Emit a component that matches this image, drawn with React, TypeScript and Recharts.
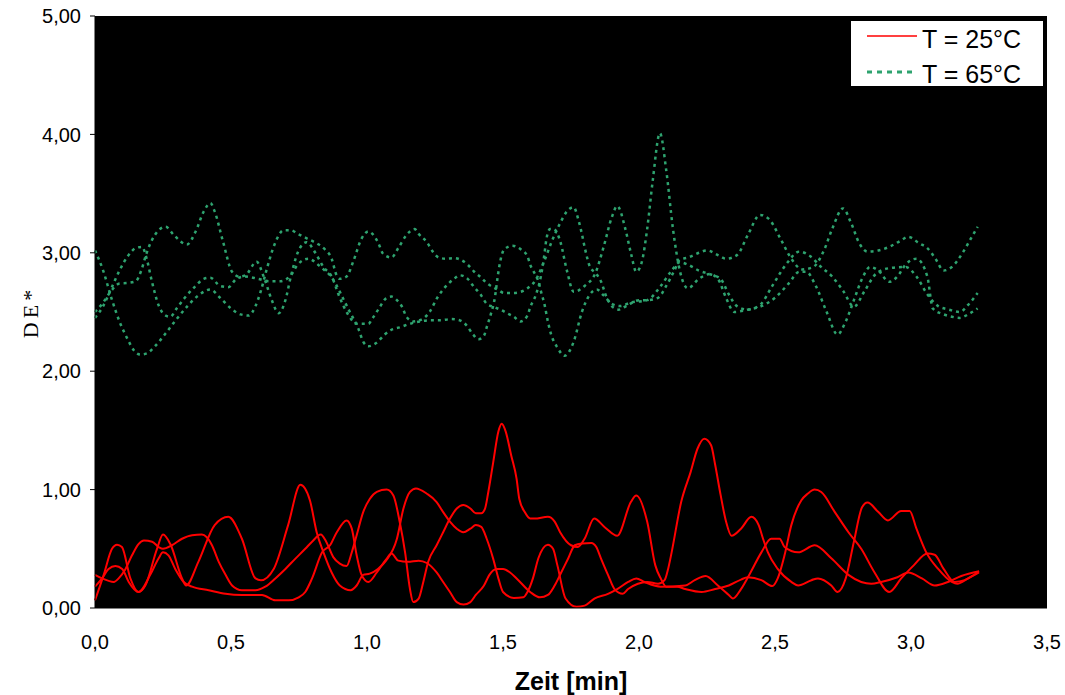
import React from 'react';
import { LineChart, Line, XAxis, YAxis, CartesianGrid, Legend } from 'recharts';

type Pt = [number, number];

const X_TICKS = [0, 0.5, 1, 1.5, 2, 2.5, 3, 3.5];
const Y_TICKS = [0, 1, 2, 3, 4, 5];

const RED = '#ff0000';
const GREEN = '#2ea36f';
const FONT = '"Liberation Sans", Arial, sans-serif';

// T = 25°C, three runs
const red1: Pt[] = [
  [0, 0.065], [0.032, 0.28], [0.0625, 0.5], [0.081, 0.535], [0.099, 0.515], [0.13, 0.25], [0.16, 0.135],
  [0.185, 0.19], [0.228, 0.5], [0.25, 0.62], [0.277, 0.54], [0.32, 0.25], [0.335, 0.19], [0.38, 0.39],
  [0.44, 0.7], [0.49, 0.77], [0.54, 0.585], [0.59, 0.25], [0.61, 0.235], [0.657, 0.33], [0.71, 0.7],
  [0.755, 1.04], [0.79, 0.91], [0.815, 0.64], [0.84, 0.47], [0.87, 0.3], [0.9, 0.19], [0.94, 0.15],
  [0.962, 0.19], [0.986, 0.28], [1.01, 0.29], [1.04, 0.33], [1.07, 0.4], [1.11, 0.585], [1.134, 0.84],
  [1.158, 0.98], [1.18, 1.01], [1.22, 0.965], [1.256, 0.895], [1.28, 0.81], [1.305, 0.73], [1.33, 0.67],
  [1.354, 0.64], [1.38, 0.67], [1.4, 0.7], [1.42, 0.685], [1.44, 0.585], [1.464, 0.415], [1.483, 0.25],
  [1.5, 0.135], [1.54, 0.085], [1.575, 0.09], [1.59, 0.135], [1.61, 0.25], [1.63, 0.42], [1.665, 0.535],
  [1.684, 0.5], [1.7, 0.36], [1.73, 0.08], [1.77, 0.01], [1.8, 0.02], [1.836, 0.08], [1.886, 0.12],
  [1.92, 0.16], [1.96, 0.22], [1.99, 0.25], [2.02, 0.22], [2.08, 0.18], [2.17, 0.19], [2.205, 0.235],
  [2.245, 0.27], [2.29, 0.19], [2.33, 0.11], [2.345, 0.08], [2.375, 0.16], [2.41, 0.3], [2.45, 0.47],
  [2.486, 0.585], [2.517, 0.585], [2.535, 0.515], [2.585, 0.47], [2.646, 0.53], [2.707, 0.42], [2.77, 0.28],
  [2.817, 0.22], [2.854, 0.205], [2.89, 0.22], [2.95, 0.26], [2.99, 0.3], [3.04, 0.25], [3.087, 0.19],
  [3.136, 0.22], [3.185, 0.27], [3.25, 0.31],
];

const red2: Pt[] = [
  [0, 0.18], [0.026, 0.25], [0.05, 0.33], [0.075, 0.355], [0.1, 0.33], [0.124, 0.22], [0.16, 0.135],
  [0.203, 0.28], [0.234, 0.42], [0.25, 0.47], [0.27, 0.445], [0.295, 0.33], [0.326, 0.22], [0.357, 0.18],
  [0.418, 0.15], [0.48, 0.12], [0.54, 0.11], [0.614, 0.11], [0.663, 0.065], [0.712, 0.065], [0.749, 0.09],
  [0.773, 0.135], [0.798, 0.25], [0.835, 0.47], [0.864, 0.53], [0.889, 0.64], [0.925, 0.74], [0.944, 0.67],
  [0.962, 0.445], [0.98, 0.28], [1.005, 0.22], [1.036, 0.3], [1.072, 0.415], [1.09, 0.46], [1.115, 0.4],
  [1.15, 0.39], [1.19, 0.4], [1.22, 0.38], [1.256, 0.3], [1.28, 0.22], [1.305, 0.135], [1.33, 0.05],
  [1.355, 0.03], [1.38, 0.05], [1.4, 0.11], [1.43, 0.19], [1.45, 0.28], [1.477, 0.33], [1.5, 0.33],
  [1.526, 0.3], [1.55, 0.25], [1.6, 0.135], [1.636, 0.09], [1.665, 0.11], [1.69, 0.19], [1.714, 0.3],
  [1.74, 0.42], [1.764, 0.53], [1.79, 0.545], [1.825, 0.55], [1.843, 0.515], [1.86, 0.42], [1.886, 0.28],
  [1.91, 0.16], [1.94, 0.12], [1.96, 0.16], [1.996, 0.205], [2.03, 0.22], [2.07, 0.205], [2.094, 0.235],
  [2.107, 0.33], [2.12, 0.47], [2.155, 0.895], [2.19, 1.15], [2.215, 1.345], [2.24, 1.43], [2.265, 1.375],
  [2.28, 1.21], [2.3, 0.955], [2.32, 0.73], [2.34, 0.61], [2.375, 0.67], [2.413, 0.77], [2.44, 0.7],
  [2.456, 0.585], [2.474, 0.47], [2.51, 0.33], [2.56, 0.22], [2.585, 0.19], [2.634, 0.235], [2.658, 0.25],
  [2.707, 0.19], [2.73, 0.135], [2.76, 0.25], [2.79, 0.56], [2.82, 0.85], [2.84, 0.89], [2.88, 0.81],
  [2.915, 0.74], [2.964, 0.82], [2.995, 0.82], [3.02, 0.67], [3.056, 0.47], [3.1, 0.33], [3.15, 0.22],
  [3.17, 0.205], [3.21, 0.25], [3.25, 0.3],
];

const red3: Pt[] = [
  [0, 0.28], [0.026, 0.25], [0.069, 0.22], [0.087, 0.25], [0.11, 0.32], [0.136, 0.445], [0.16, 0.54],
  [0.18, 0.57], [0.21, 0.56], [0.234, 0.515], [0.25, 0.5], [0.283, 0.53], [0.32, 0.585], [0.357, 0.615],
  [0.393, 0.62], [0.41, 0.6], [0.43, 0.53], [0.455, 0.39], [0.48, 0.28], [0.504, 0.19], [0.54, 0.15],
  [0.59, 0.15], [0.626, 0.18], [0.663, 0.25], [0.7, 0.33], [0.736, 0.415], [0.773, 0.5], [0.798, 0.56],
  [0.83, 0.62], [0.85, 0.56], [0.876, 0.43], [0.9, 0.375], [0.925, 0.355], [0.944, 0.47], [0.962, 0.615],
  [0.986, 0.81], [1.01, 0.92], [1.036, 0.98], [1.072, 1.0], [1.097, 0.95], [1.12, 0.73], [1.14, 0.47],
  [1.158, 0.16], [1.17, 0.05], [1.19, 0.08], [1.207, 0.22], [1.225, 0.39], [1.256, 0.53], [1.28, 0.64],
  [1.305, 0.755], [1.33, 0.84], [1.354, 0.87], [1.38, 0.84], [1.4, 0.8], [1.42, 0.8], [1.434, 0.84],
  [1.446, 0.98], [1.464, 1.23], [1.483, 1.49], [1.495, 1.556], [1.51, 1.49], [1.53, 1.29], [1.55, 1.09],
  [1.56, 0.92], [1.58, 0.81], [1.6, 0.755], [1.616, 0.755], [1.665, 0.77], [1.69, 0.73], [1.71, 0.64],
  [1.75, 0.53], [1.775, 0.515], [1.8, 0.585], [1.835, 0.755], [1.875, 0.68], [1.92, 0.61], [1.97, 0.895],
  [1.99, 0.95], [2.03, 0.73], [2.06, 0.36], [2.08, 0.25], [2.1, 0.18], [2.14, 0.18], [2.17, 0.16],
  [2.23, 0.135], [2.28, 0.16], [2.33, 0.19], [2.375, 0.24], [2.4, 0.26], [2.45, 0.235], [2.49, 0.185],
  [2.51, 0.25], [2.535, 0.445], [2.56, 0.7], [2.597, 0.91], [2.62, 0.965], [2.646, 1.0], [2.67, 0.98],
  [2.72, 0.81], [2.77, 0.64], [2.817, 0.5], [2.866, 0.3], [2.92, 0.135], [2.964, 0.25], [3.01, 0.36],
  [3.06, 0.46], [3.087, 0.45], [3.12, 0.33], [3.16, 0.22], [3.197, 0.235], [3.25, 0.31],
];

// T = 65°C, three runs
const green1: Pt[] = [
  [0, 3.02], [0.03, 2.85], [0.06, 2.62], [0.09, 2.42], [0.12, 2.27], [0.145, 2.17], [0.167, 2.14],
  [0.19, 2.15], [0.22, 2.21], [0.26, 2.32], [0.3, 2.44], [0.34, 2.55], [0.38, 2.64], [0.424, 2.69],
  [0.46, 2.62], [0.5, 2.53], [0.535, 2.48], [0.565, 2.47], [0.59, 2.55], [0.61, 2.68], [0.63, 2.85],
  [0.66, 3.07], [0.694, 3.19], [0.72, 3.19], [0.745, 3.16], [0.78, 3.12], [0.815, 3.08], [0.845, 3.03],
  [0.87, 2.95], [0.888, 2.81], [0.9, 2.78], [0.925, 2.8], [0.95, 2.93], [0.98, 3.12], [1.005, 3.18],
  [1.02, 3.16], [1.04, 3.09], [1.06, 2.99], [1.09, 2.96], [1.115, 3.04], [1.145, 3.15], [1.176, 3.2],
  [1.19, 3.16], [1.22, 3.09], [1.245, 3.0], [1.264, 2.96], [1.29, 2.95], [1.32, 2.955], [1.345, 2.94],
  [1.37, 2.9], [1.394, 2.84], [1.42, 2.79], [1.44, 2.745], [1.48, 2.69], [1.505, 2.66], [1.535, 2.66],
  [1.565, 2.67], [1.59, 2.7], [1.62, 2.77], [1.65, 2.92], [1.68, 3.1], [1.71, 3.25], [1.735, 3.35],
  [1.76, 3.385], [1.777, 3.28], [1.79, 3.16], [1.8, 3.05], [1.82, 2.88], [1.84, 2.83], [1.86, 2.76],
  [1.88, 2.63], [1.9, 2.55], [1.925, 2.52], [1.96, 2.56], [2.0, 2.6], [2.03, 2.6], [2.07, 2.62],
  [2.1, 2.72], [2.13, 2.85], [2.15, 2.94], [2.18, 2.96], [2.22, 3.0], [2.25, 3.02], [2.29, 2.98],
  [2.32, 2.95], [2.36, 2.98], [2.4, 3.15], [2.445, 3.32], [2.48, 3.28], [2.52, 3.12], [2.56, 2.95],
  [2.6, 2.86], [2.64, 2.88], [2.68, 3.02], [2.71, 3.2], [2.75, 3.375], [2.78, 3.25], [2.81, 3.08],
  [2.84, 3.01], [2.88, 3.02], [2.92, 3.05], [2.96, 3.1], [2.99, 3.135], [3.03, 3.08], [3.06, 3.04],
  [3.09, 2.95], [3.12, 2.85], [3.15, 2.88], [3.19, 3.0], [3.22, 3.12], [3.245, 3.22],
];

const green2: Pt[] = [
  [0, 2.5], [0.03, 2.58], [0.06, 2.68], [0.09, 2.74], [0.12, 2.745], [0.15, 2.76], [0.17, 2.85],
  [0.19, 3.0], [0.22, 3.15], [0.26, 3.22], [0.29, 3.15], [0.338, 3.07], [0.37, 3.18], [0.4, 3.35],
  [0.424, 3.42], [0.44, 3.35], [0.47, 3.1], [0.504, 2.84], [0.53, 2.8], [0.553, 2.81], [0.594, 2.925],
  [0.62, 2.8], [0.65, 2.6], [0.675, 2.49], [0.7, 2.6], [0.72, 2.8], [0.745, 3.0], [0.778, 3.09],
  [0.81, 3.0], [0.84, 2.88], [0.87, 2.8], [0.9, 2.62], [0.93, 2.48], [0.962, 2.4], [1.005, 2.4],
  [1.02, 2.445], [1.044, 2.53], [1.07, 2.615], [1.09, 2.63], [1.11, 2.6], [1.13, 2.54], [1.145, 2.46],
  [1.17, 2.42], [1.194, 2.43], [1.23, 2.5], [1.257, 2.615], [1.287, 2.71], [1.32, 2.78], [1.34, 2.81],
  [1.37, 2.78], [1.394, 2.71], [1.42, 2.64], [1.44, 2.57], [1.47, 2.54], [1.49, 2.52], [1.515, 2.49],
  [1.54, 2.46], [1.565, 2.42], [1.59, 2.47], [1.6, 2.54], [1.62, 2.64], [1.64, 2.81], [1.65, 2.95],
  [1.66, 3.12], [1.673, 3.2], [1.686, 3.2], [1.71, 3.1], [1.735, 2.85], [1.76, 2.67], [1.8, 2.72],
  [1.84, 2.83], [1.87, 3.05], [1.9, 3.3], [1.92, 3.395], [1.95, 3.2], [1.97, 3.0], [1.99, 2.84],
  [2.01, 2.92], [2.03, 3.2], [2.05, 3.6], [2.077, 4.01], [2.1, 3.7], [2.125, 3.2], [2.15, 2.85],
  [2.18, 2.7], [2.22, 2.78], [2.26, 2.82], [2.29, 2.78], [2.32, 2.62], [2.35, 2.5], [2.4, 2.52],
  [2.445, 2.545], [2.5, 2.62], [2.55, 2.74], [2.59, 2.84], [2.615, 2.84], [2.65, 2.72], [2.69, 2.5],
  [2.73, 2.31], [2.76, 2.42], [2.79, 2.6], [2.82, 2.78], [2.85, 2.88], [2.88, 2.85], [2.92, 2.755],
  [2.95, 2.8], [2.98, 2.9], [3.02, 2.95], [3.06, 2.8], [3.08, 2.53], [3.12, 2.48], [3.15, 2.46],
  [3.18, 2.45], [3.21, 2.48], [3.245, 2.53],
];

const green3: Pt[] = [
  [0, 2.45], [0.03, 2.55], [0.06, 2.7], [0.09, 2.85], [0.12, 2.97], [0.15, 3.04], [0.173, 3.05],
  [0.19, 2.95], [0.21, 2.75], [0.235, 2.55], [0.26, 2.47], [0.277, 2.46], [0.3, 2.53], [0.33, 2.62],
  [0.37, 2.72], [0.4, 2.78], [0.424, 2.79], [0.46, 2.72], [0.49, 2.71], [0.52, 2.78], [0.55, 2.8],
  [0.6, 2.78], [0.64, 2.76], [0.68, 2.76], [0.72, 2.81], [0.745, 2.9], [0.785, 2.95], [0.82, 2.9],
  [0.845, 2.85], [0.864, 2.81], [0.888, 2.725], [0.913, 2.61], [0.937, 2.5], [0.968, 2.36], [0.986, 2.25],
  [1.005, 2.21], [1.035, 2.24], [1.065, 2.31], [1.09, 2.35], [1.12, 2.37], [1.157, 2.4], [1.194, 2.42],
  [1.23, 2.43], [1.268, 2.43], [1.31, 2.44], [1.34, 2.43], [1.365, 2.39], [1.39, 2.31], [1.41, 2.27],
  [1.43, 2.3], [1.44, 2.37], [1.455, 2.48], [1.47, 2.62], [1.48, 2.79], [1.49, 2.93], [1.505, 3.03],
  [1.535, 3.06], [1.565, 3.03], [1.59, 2.97], [1.6, 2.9], [1.62, 2.81], [1.63, 2.76], [1.64, 2.67],
  [1.653, 2.56], [1.665, 2.42], [1.677, 2.31], [1.7, 2.2], [1.726, 2.13], [1.76, 2.25], [1.79, 2.5],
  [1.82, 2.65], [1.845, 2.69], [1.87, 2.64], [1.9, 2.57], [1.93, 2.55], [1.97, 2.58], [2.03, 2.6],
  [2.08, 2.72], [2.12, 2.85], [2.15, 2.92], [2.18, 2.9], [2.22, 2.85], [2.26, 2.82], [2.3, 2.78],
  [2.33, 2.65], [2.36, 2.55], [2.4, 2.52], [2.445, 2.56], [2.49, 2.72], [2.54, 2.9], [2.59, 3.01],
  [2.63, 2.97], [2.67, 2.88], [2.71, 2.8], [2.75, 2.68], [2.79, 2.545], [2.83, 2.68], [2.87, 2.82],
  [2.92, 2.87], [2.98, 2.88], [3.02, 2.8], [3.06, 2.65], [3.1, 2.55], [3.14, 2.52], [3.18, 2.5],
  [3.21, 2.56], [3.245, 2.66],
];

const SERIES = [
  { key: 'r1', name: 'T = 25°C', points: red1, color: RED, dashed: false, legend: true },
  { key: 'r2', name: 'T = 25°C', points: red2, color: RED, dashed: false, legend: false },
  { key: 'r3', name: 'T = 25°C', points: red3, color: RED, dashed: false, legend: false },
  { key: 'g1', name: 'T = 65°C', points: green1, color: GREEN, dashed: true, legend: true },
  { key: 'g2', name: 'T = 65°C', points: green2, color: GREEN, dashed: true, legend: false },
  { key: 'g3', name: 'T = 65°C', points: green3, color: GREEN, dashed: true, legend: false },
];

const toRows = (pts: Pt[]) => pts.map(([x, y]) => ({ x, y }));

// white boxed legend in the top right corner of the plot
const LegendBox = () => {
  const items = SERIES.filter(s => s.legend);
  return (
    <svg width={200} height={76} style={{ display: 'block', overflow: 'visible' }}>
      <rect x={0.5} y={0.5} width={193} height={66} fill="#fff" stroke="#000" />
      {items.map((s, i) => (
        <g key={s.key}>
          <line
            x1={17}
            x2={67}
            y1={16 + i * 36}
            y2={16 + i * 36}
            stroke={s.color}
            strokeWidth={s.dashed ? 3 : 1.5}
            strokeDasharray={s.dashed ? '5 5' : undefined}
          />
          <text x={72} y={28 + i * 35} fontSize={25} fontFamily={FONT} fill="#000">
            {s.name}
          </text>
        </g>
      ))}
    </svg>
  );
};

export default function App() {
  return (
    <div style={{ position: 'absolute', left: 0, top: 0, width: 1065, height: 695, background: '#fff' }}>
      <LineChart width={1065} height={695} margin={{ top: 16, right: 18, bottom: 5, left: 0 }}>
        <CartesianGrid fill="#000" stroke="none" />
        <XAxis
          type="number"
          dataKey="x"
          domain={[0, 3.5]}
          ticks={X_TICKS}
          interval={0}
          tickFormatter={(v: number) => v.toFixed(1).replace('.', ',')}
          height={82}
          tickLine={false}
          tickSize={6}
          tickMargin={21}
          axisLine={{ stroke: '#000' }}
          tick={{ fill: '#000', fontSize: 20, fontFamily: FONT }}
          label={{
            value: 'Zeit [min]',
            position: 'insideBottom',
            offset: 0,
            style: { fontWeight: 'bold', fontSize: 25, fill: '#000', fontFamily: FONT },
          }}
        />
        <YAxis
          type="number"
          domain={[0, 5]}
          ticks={Y_TICKS}
          interval={0}
          tickFormatter={(v: number) => v.toFixed(2).replace('.', ',')}
          width={95}
          tickSize={5}
          tickMargin={9}
          axisLine={{ stroke: '#000' }}
          tickLine={{ stroke: '#000' }}
          tick={{ fill: '#000', fontSize: 20, fontFamily: FONT }}
          label={{
            value: 'DE*',
            angle: -90,
            position: 'insideLeft',
            offset: 30,
            style: {
              textAnchor: 'middle',
              fontFamily: '"Liberation Serif", "Times New Roman", serif',
              fontSize: 22,
              letterSpacing: 4,
              fill: '#000',
            },
          }}
        />
        {SERIES.map(s => (
          <Line
            key={s.key}
            data={toRows(s.points)}
            dataKey="y"
            name={s.name}
            type="monotone"
            stroke={s.color}
            strokeWidth={s.dashed ? 2.5 : 2}
            strokeDasharray={s.dashed ? '3 4' : undefined}
            dot={false}
            activeDot={false}
            legendType={s.legend ? 'line' : 'none'}
            isAnimationActive={false}
          />
        ))}
        <Legend
          content={() => <LegendBox />}
          layout="horizontal"
          verticalAlign="middle"
          align="center"
          wrapperStyle={{ top: 20, left: 850, width: 200, height: 76 }}
        />
      </LineChart>
    </div>
  );
}
